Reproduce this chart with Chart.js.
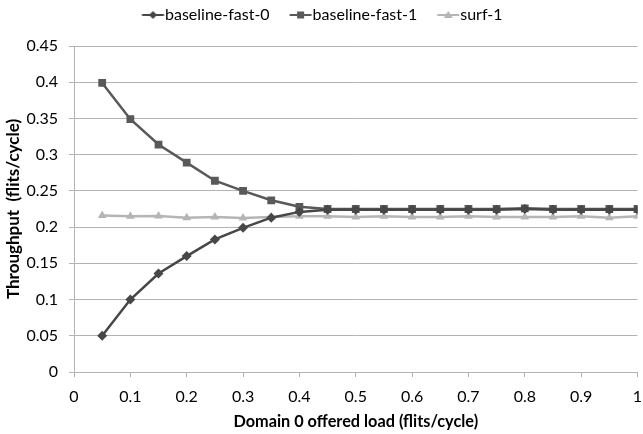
<!DOCTYPE html>
<html><head><meta charset="utf-8">
<script src="https://cdn.jsdelivr.net/npm/chart.js@4"></script>
<style>html,body{margin:0;padding:0;background:#fff}#wrap{width:643px;height:434px}</style>
</head><body><div id="wrap"><canvas id="c" width="643" height="434"></canvas></div>
<script>
const offeredLoad = [0.05,0.1,0.15,0.2,0.25,0.3,0.35,0.4,0.45,0.5,0.55,0.6,0.65,0.7,0.75,0.8,0.85,0.9,0.95,1.0];
const baselineFast0 = [0.05,0.1,0.136,0.16,0.183,0.199,0.213,0.221,0.224,0.224,0.224,0.224,0.224,0.224,0.224,0.225,0.224,0.224,0.224,0.224];
const baselineFast1 = [0.399,0.349,0.314,0.289,0.264,0.25,0.237,0.228,0.225,0.225,0.225,0.225,0.225,0.225,0.225,0.226,0.225,0.225,0.225,0.225];
const surf1 = [0.216,0.215,0.2155,0.213,0.214,0.2125,0.214,0.215,0.215,0.214,0.215,0.214,0.214,0.215,0.214,0.214,0.214,0.215,0.213,0.215];
const xTicks = [0,0.1,0.2,0.3,0.4,0.5,0.6,0.7,0.8,0.9,1];
const yTicks = [0,0.05,0.1,0.15,0.2,0.25,0.3,0.35,0.4,0.45];
const seriesNames = ['baseline-fast-0','baseline-fast-1','surf-1'];

const FONT = "Lato, 'Liberation Sans', sans-serif";
const series = [
  {label:seriesNames[0], data:baselineFast0, color:'#474747', style:'rectRot', r:5},
  {label:seriesNames[1], data:baselineFast1, color:'#595959', style:'rect', r:5.5},
  {label:seriesNames[2], data:surf1, color:'#b5b5b5', style:'triangle', r:5}
];

const datasets = series.map(s => ({
  label: s.label,
  data: offeredLoad.map((x,i)=>({x:x, y:s.data[i]})),
  borderColor: s.color,
  backgroundColor: s.color,
  borderWidth: 2.5,
  pointStyle: s.style,
  pointRadius: s.r,
  pointBorderWidth: 0,
  pointBackgroundColor: s.color,
  pointHoverRadius: s.r,
  tension: 0,
  fill: false
}));

const legendShift = {
  id: 'legendShift',
  afterLayout(chart){
    const lg = chart.legend;
    if (!lg) return;
    lg.left += 122; lg.right += 122;
    lg.top -= 13; lg.bottom -= 13;
  }
};

function makeIcon(s){
  const cv = document.createElement('canvas');
  cv.width = 54; cv.height = 14;
  const g = cv.getContext('2d');
  g.strokeStyle = s.color; g.fillStyle = s.color; g.lineWidth = 2;
  const x0 = 25.5, x1 = 47.5, cx = (x0+x1)/2, cy = 7;
  g.beginPath(); g.moveTo(x0,cy); g.lineTo(x1,cy); g.stroke();
  g.beginPath();
  if (s.style==='rect'){ g.fillRect(cx-3.5,cy-3.5,7,7); }
  else if (s.style==='rectRot'){ g.moveTo(cx,cy-4);g.lineTo(cx+4,cy);g.lineTo(cx,cy+4);g.lineTo(cx-4,cy);g.closePath();g.fill(); }
  else { g.moveTo(cx,cy-4);g.lineTo(cx+4.5,cy+3);g.lineTo(cx-4.5,cy+3);g.closePath();g.fill(); }
  return cv;
}

new Chart(document.getElementById('c'), {
  type: 'line',
  data: { datasets: datasets },
  plugins: [legendShift],
  options: {
    responsive: false,
    animation: false,
    devicePixelRatio: 1,
    layout: { padding: { left: 0, right: 4, top: 12, bottom: 2 } },
    plugins: {
      tooltip: { enabled: false },
      legend: {
        position: 'top',
        align: 'start',
        labels: {
          font: { family: FONT, size: 16 },
          color: '#000',
          usePointStyle: true,
          pointStyleWidth: 27,
          boxHeight: 14,
          padding: 8,
          generateLabels: function(chart){
            return series.map((s,i)=>({ text:s.label, pointStyle:makeIcon(s), fillStyle:s.color, strokeStyle:s.color, lineWidth:0, hidden:false, datasetIndex:i, fontColor:'#000' }));
          }
        }
      }
    },
    scales: {
      x: {
        type: 'linear',
        min: 0, max: 1,
        afterBuildTicks: (ax)=>{ ax.ticks = xTicks.map(v=>({value:v})); },
        afterFit: (ax)=>{ ax.height = 60; ax.paddingRight = 0; ax.paddingLeft = 0; },
        ticks: {
          font: { family: FONT, size: 16 }, color: '#000',
          maxRotation: 0, autoSkip: false, padding: 10,
          callback: (v)=> String(Math.round(v*10)/10)
        },
        grid: { display: true, drawOnChartArea: false, drawTicks: true, tickLength: 5, color: '#b3b3b3', lineWidth: 1 },
        border: { display: true, color: '#b3b3b3', width: 1 },
        title: { display: true, text: 'Domain 0 offered load (flits/cycle)', font: { family: FONT, size: 16.3, weight: 'bold' }, color: '#000', padding: { top: 2, bottom: 0 } }
      },
      y: {
        type: 'linear',
        min: 0, max: 0.45,
        afterBuildTicks: (ax)=>{ ax.ticks = yTicks.map(v=>({value:v})); },
        afterFit: (ax)=>{ ax.width = 74; },
        ticks: {
          font: { family: FONT, size: 16 }, color: '#000', padding: 11,
          callback: (v)=> String(Math.round(v*100)/100)
        },
        grid: { color: '#b3b3b3', lineWidth: 1, tickLength: 5 },
        border: { display: true, color: '#b3b3b3', width: 1 },
        title: { display: true, text: 'Throughput  (flits/cycle)', font: { family: FONT, size: 17, weight: 'bold' }, color: '#000', padding: { top: 3, bottom: 0 } }
      }
    }
  }
});
</script>
</body></html>
